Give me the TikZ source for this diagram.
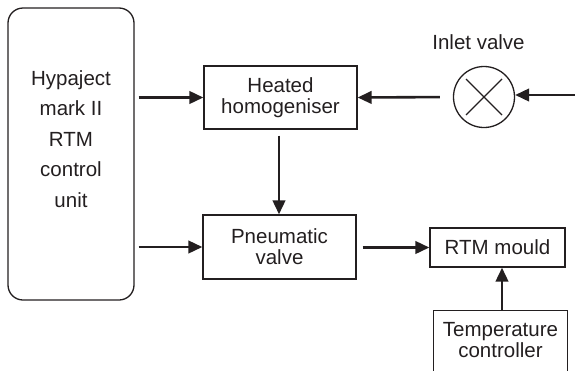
\documentclass[tikz,border=0pt]{standalone}
\usepackage{fontspec}
\setmainfont{Liberation Sans}
\usetikzlibrary{arrows.meta,calc}
\definecolor{ink}{RGB}{35,31,32}
\tikzset{
  box/.style={draw=ink, line width=1.3pt, inner sep=0pt, align=center, text=ink,
    font=\fontsize{20.5}{21}\selectfont},
  lbl/.style={inner sep=0pt, align=center, text=ink, font=\fontsize{20.5}{21}\selectfont},
  flow/.style={draw=ink, line width=2.6pt, -{Triangle[length=14pt,width=12.5pt]}}
}
\begin{document}
\begin{tikzpicture}[x=1pt,y=-1pt]
\useasboundingbox (0,0) rectangle (575,370);
% control unit
\node[box, rounded corners=15pt, minimum width=126pt, minimum height=292pt] (ctrl) at (71,154) {};
\node[lbl, font=\fontsize{20.5}{30.5}\selectfont] (ctrltxt) at (71,139) {Hypaject\\mark II\\RTM\\control\\unit};
% boxes
\node[box, minimum width=153pt, minimum height=63pt] (heat) at (280.5,97.5) {Heated\\homogeniser};
\node[box, minimum width=153pt, minimum height=64pt] (pneu) at (279.5,247) {Pneumatic\\valve};
\node[box, minimum width=135pt, minimum height=39pt] (mould) at (497.5,247.5) {RTM mould};
\node[box, anchor=north, minimum width=134pt, minimum height=90pt] (temp) at (500.5,310) {};
\node[lbl] (temptxt) at (500.5,340) {Temperature\\controller};
% inlet valve
\node[draw=ink, line width=1.3pt, circle, minimum size=61pt, inner sep=0pt] (valve) at (484,97) {};
\draw[ink, line width=1.3pt] ($(valve.center)+(-18,-18)$) -- ($(valve.center)+(18,18)$)
  ($(valve.center)+(-18,18)$) -- ($(valve.center)+(18,-18)$);
\node[lbl] (valvelbl) at (478.5,42) {Inlet valve};
\coordinate (src) at (575,95);
% connectors
\draw[flow, shorten <=4pt] (ctrl.east |- heat.west) -- (heat.west);
\draw[flow, shorten <=4pt] (ctrl.east |- pneu.west) -- (pneu.west);
\draw[flow, shorten <=6pt] (heat.south -| 279,0) -- (pneu.north -| 279,0);
\draw[flow, shorten <=6pt] (pneu.east |- mould.west) -- (mould.west);
\draw[flow] (temp.north -| 502,0) -- (mould.south -| 502,0);
\draw[flow, shorten <=13pt] (valve.west) -- (heat.east);
\draw[flow] (src) -- (src -| valve.east);
\end{tikzpicture}
\end{document}
